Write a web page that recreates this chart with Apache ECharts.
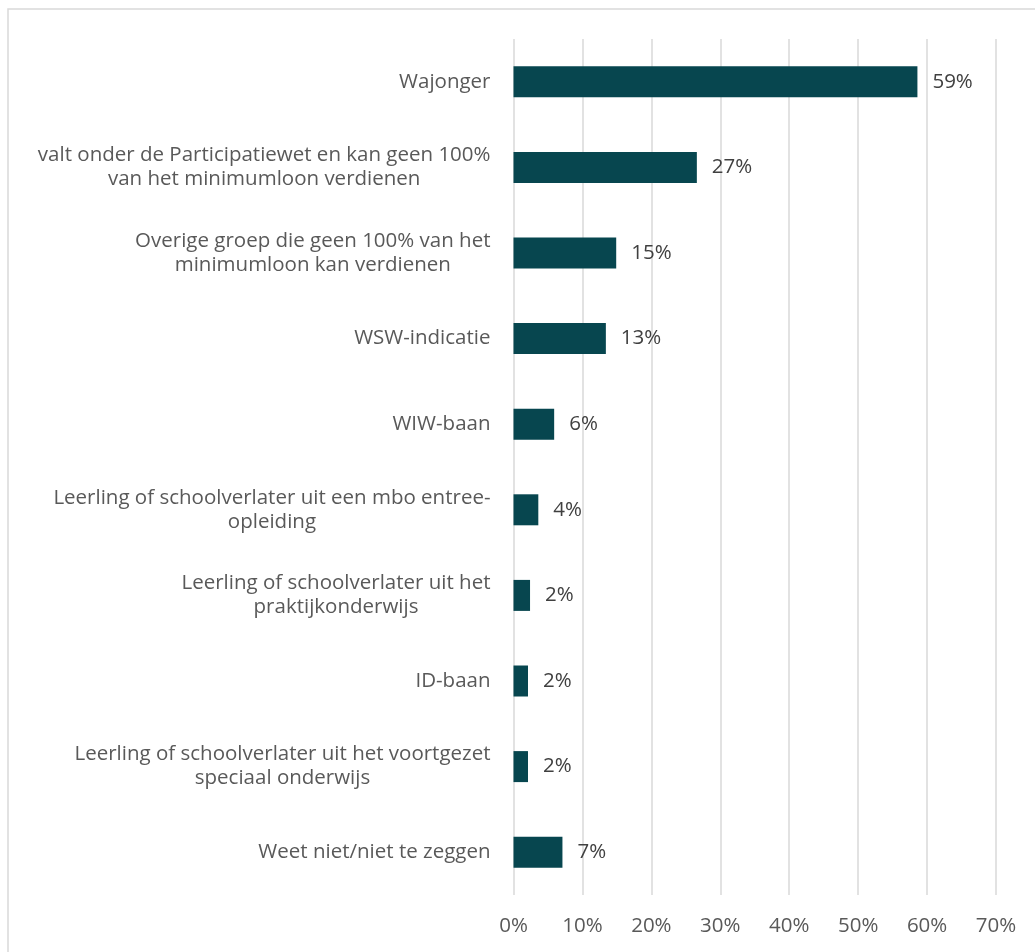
<!DOCTYPE html>
<html>
<head>
<meta charset="utf-8">
<style>
  html, body { margin: 0; padding: 0; background: #ffffff; }
  #chart { width: 1035px; height: 952px; }
</style>
<script src="https://cdn.jsdelivr.net/npm/echarts@6/dist/echarts.min.js"></script>
</head>
<body>
<div id="chart"></div>
<script>
// Categories, top to bottom
const categories = [
  'Wajonger',
  'valt onder de Participatiewet en kan geen 100%\nvan het minimumloon verdienen',
  'Overige groep die geen 100% van het\nminimumloon kan verdienen',
  'WSW-indicatie',
  'WIW-baan',
  'Leerling of schoolverlater uit een mbo entree-\nopleiding',
  'Leerling of schoolverlater uit het\npraktijkonderwijs',
  'ID-baan',
  'Leerling of schoolverlater uit het voortgezet\nspeciaal onderwijs',
  'Weet niet/niet te zeggen'
];

// Share of respondents, percent
const shares = [58.6, 26.6, 14.9, 13.4, 5.9, 3.6, 2.4, 2.1, 2.1, 7.1];

// Value axis ticks
const axisMin = 0;
const axisMax = 70;
const axisStep = 10;

const FONT = 'Open Sans';
const FONT_SIZE = 20.5;

const chart = echarts.init(document.getElementById('chart'));

chart.setOption({
  animation: false,
  backgroundColor: '#ffffff',
  graphic: [{
    type: 'rect',
    shape: { x: 8, y: 9, width: 1100, height: 1000 },
    style: { fill: 'none', stroke: '#d9d9d9', lineWidth: 1.5 },
    silent: true
  }],
  grid: { left: 513.5, right: 39, top: 39, bottom: 57, containLabel: false },
  xAxis: {
    type: 'value',
    min: axisMin,
    max: axisMax,
    interval: axisStep,
    axisLine: { show: false },
    axisTick: { show: false },
    splitLine: { show: true, lineStyle: { color: '#d9d9d9', width: 1.5 } },
    axisLabel: {
      margin: 21,
      color: '#595959',
      fontFamily: FONT,
      fontSize: FONT_SIZE,
      formatter: v => v + '%'
    }
  },
  yAxis: {
    type: 'category',
    inverse: true,
    data: categories,
    axisLine: { show: false },
    axisTick: { show: false },
    splitLine: { show: false },
    axisLabel: {
      margin: 23,
      align: 'right',
      // wrapped lines are centred under each other
      formatter: v => v.split('\n').map(s => '{c|' + s + '}').join('\n'),
      rich: {
        c: {
          align: 'center',
          color: '#595959',
          fontFamily: FONT,
          fontSize: FONT_SIZE,
          lineHeight: 24
        }
      }
    }
  },
  series: [{
    type: 'bar',
    data: shares,
    barWidth: 31,
    itemStyle: { color: '#07464f' },
    label: {
      show: true,
      position: 'right',
      distance: 15,
      color: '#404040',
      fontFamily: FONT,
      fontSize: FONT_SIZE,
      formatter: p => Math.round(p.value) + '%'
    }
  }]
});
</script>
</body>
</html>
